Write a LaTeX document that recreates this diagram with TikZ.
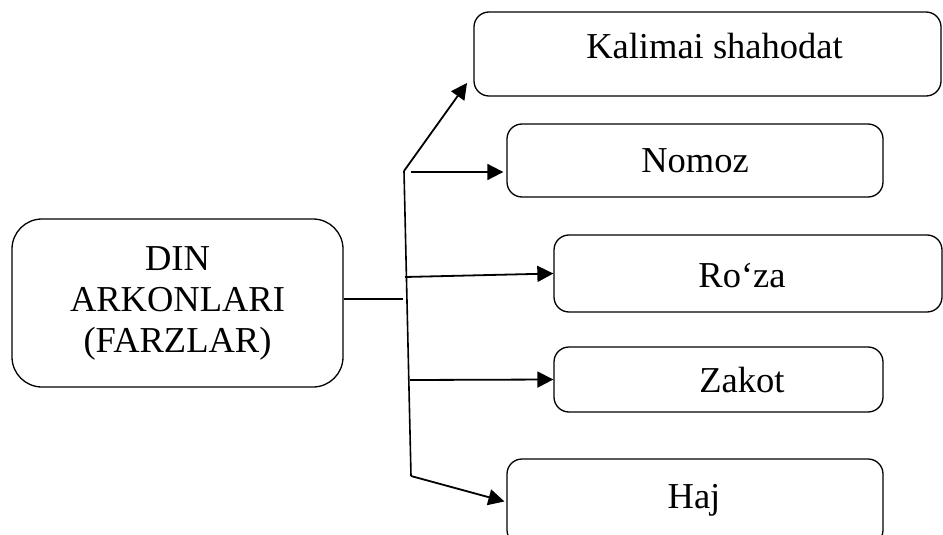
\documentclass[tikz,border=0pt]{standalone}
\usepackage{fontspec}
\setmainfont{Liberation Serif}
\usetikzlibrary{arrows.meta}

\tikzset{
  pillar/.style={draw, line width=1.3pt, rounded corners=15pt, inner sep=0pt},
  pillartext/.style={anchor=base, inner sep=0pt, font=\fontsize{36.5}{41}\selectfont},
  flow/.style={line width=1.8pt, -{Triangle[length=16pt,width=16pt]}},
}

\begin{document}
\begin{tikzpicture}[x=1pt,y=-1pt]
  \clip (0,0) rectangle (943,535);
  % the five pillars
  \node[pillar, minimum width=467pt, minimum height=84pt] (kalima) at (707.5,54)    {};
  \node[pillar, minimum width=376pt, minimum height=73pt] (nomoz)  at (695,160.5)   {};
  \node[pillar, minimum width=388pt, minimum height=77pt] (roza)   at (748,273.5)   {};
  \node[pillar, minimum width=329pt, minimum height=65pt] (zakot)  at (718.5,379.5) {};
  \node[pillar, minimum width=376pt, minimum height=86pt] (haj)    at (695,502)     {};
  \node[pillartext] (kalimatext) at (714.5,59)  {Kalimai shahodat};
  \node[pillartext] (nomoztext)  at (695,172)   {Nomoz};
  \node[pillartext] (rozatext)   at (742,287)   {Ro‘za};
  \node[pillartext] (zakottext)  at (742,392)   {Zakot};
  \node[pillartext] (hajtext)    at (694,508)   {Haj};
  % main box
  \node[draw, line width=1.3pt, rounded corners=30pt, align=center,
        font=\fontsize{36.5}{41}\selectfont,
        minimum width=331pt, minimum height=168pt] (din) at (177.5,303) {DIN\\ARKONLARI\\(FARZLAR)};
  % trunk
  \coordinate (top) at (404,171);
  \coordinate (bottom) at (411,476);
  \coordinate (fork) at (403,299);
  \coordinate (ktip) at (467,83);
  \coordinate (nstart) at (411,172);
  \coordinate (rstart) at (405,277);
  \coordinate (zstart) at (410,380);
  \draw[line width=1.6pt] (top) -- (bottom);
  \draw[line width=1.6pt] (din.east |- fork) -- (fork);
  % branches
  \draw[flow] (top) -- (ktip);
  \draw[flow, shorten >=3pt] (nstart) -- (nomoz.west |- nstart);
  \draw[flow] (rstart) -- (roza.west);
  \draw[flow] (zstart) -- (zakot.west);
  \draw[flow, shorten >=2pt] (bottom) -- (haj.west);
\end{tikzpicture}
\end{document}
